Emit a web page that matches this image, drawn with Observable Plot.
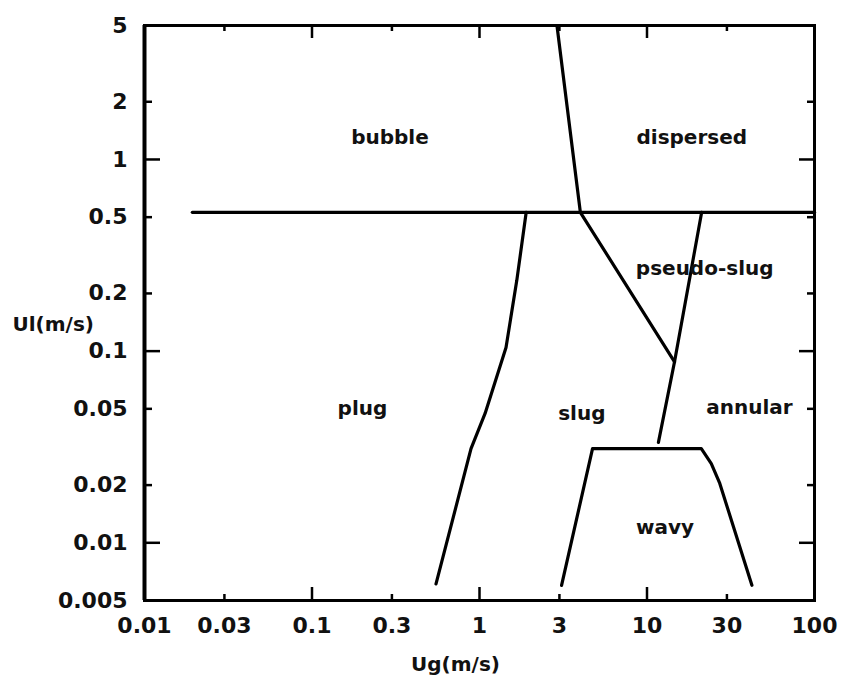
<!DOCTYPE html>
<html>
<head>
<meta charset="utf-8">
<script src="https://cdn.jsdelivr.net/npm/d3@7"></script>
<script src="https://cdn.jsdelivr.net/npm/@observablehq/plot@0.6"></script>
<style>
  html, body { margin: 0; padding: 0; background: #fff; }
  #chart svg { display: block; }
</style>
</head>
<body>
<div id="chart"></div>
<script>
// Axis ticks and labels
const xTicks = [0.01, 0.03, 0.1, 0.3, 1, 3, 10, 30, 100];
const xTickLabels = ["0.01", "0.03", "0.1", "0.3", "1", "3", "10", "30", "100"];
const yTicks = [5, 2, 1, 0.5, 0.2, 0.1, 0.05, 0.02, 0.01, 0.005];
const yTickLabels = ["5", "2", "1", "0.5", "0.2", "0.1", "0.05", "0.02", "0.01", "0.005"];
const xMajorTicks = [0.1, 1, 10];
const xMinorTicks = [0.03, 0.3, 3, 30];
const yMajorTicks = [1, 0.1, 0.01];
const yMinorTicks = [2, 0.5, 0.2, 0.05, 0.02];

// Flow-regime boundaries (Ug, Ul in m/s)
const topBoundaryUg = [0.0193, 100];
const topBoundaryUl = [0.53, 0.53];
const bubbleDispersedUg = [2.9, 4.0];
const bubbleDispersedUl = [5, 0.53];
const pseudoSlugUg = [4.0, 14.6];
const pseudoSlugUl = [0.53, 0.088];
const plugSlugUg = [1.9, 1.67, 1.44, 1.08, 0.89, 0.55];
const plugSlugUl = [0.53, 0.234, 0.1045, 0.0473, 0.031, 0.0061];
const slugAnnularUg = [21.2, 14.6, 11.7];
const slugAnnularUl = [0.53, 0.088, 0.0334];
const wavyUg = [3.09, 4.73, 21.1, 24.2, 27.2, 42.3];
const wavyUl = [0.006, 0.031, 0.031, 0.0259, 0.0204, 0.006];

// Region labels
const regionNames = ["bubble", "dispersed", "pseudo-slug", "plug", "slug", "annular", "wavy"];
const regionUg = [0.292, 18.5, 22.1, 0.2, 4.08, 40.9, 12.8];
const regionUl = [1.30, 1.30, 0.27, 0.0502, 0.047, 0.0508, 0.012];

const zip = (xs, ys) => xs.map((x, i) => ({Ug: x, Ul: ys[i]}));
const boundaries = [
  zip(topBoundaryUg, topBoundaryUl),
  zip(bubbleDispersedUg, bubbleDispersedUl),
  zip(pseudoSlugUg, pseudoSlugUl),
  zip(plugSlugUg, plugSlugUl),
  zip(slugAnnularUg, slugAnnularUl),
  zip(wavyUg, wavyUl)
];
const regions = regionNames.map((n, i) => ({name: n, Ug: regionUg[i], Ul: regionUl[i]}));
const xLabelRows = xTicks.map((v, i) => ({v, t: xTickLabels[i]}));
const yLabelRows = yTicks.map((v, i) => ({v, t: yTickLabels[i]}));

const W = 842, H = 682, mL = 144, mR = 28, mT = 25, mB = 82;
const fw = W - mL - mR, fh = H - mT - mB;
const longT = 13, shortT = 6;

const chart = Plot.plot({
  width: W, height: H,
  marginLeft: mL, marginRight: mR, marginTop: mT, marginBottom: mB,
  style: {fontFamily: "DejaVu Sans", fontWeight: "bold", color: "#000", background: "#fff"},
  x: {type: "log", domain: [0.01, 100], axis: null},
  y: {type: "log", domain: [0.005, 5], axis: null},
  marks: [
    // tick labels
    Plot.text(xLabelRows, {x: "v", text: "t", frameAnchor: "bottom", lineAnchor: "top", dy: 17, fontSize: 22, fontWeight: "bold", fill: "#111"}),
    Plot.text(yLabelRows, {y: "v", text: "t", frameAnchor: "left", textAnchor: "end", dx: -17, fontSize: 22, fontWeight: "bold", fill: "#111"}),
    // inward tick marks
    Plot.tickX(xMajorTicks, {x: d => d, insetTop: fh - longT, strokeWidth: 2.5}),
    Plot.tickX(xMinorTicks, {x: d => d, insetTop: fh - shortT, strokeWidth: 2.5}),
    Plot.tickX(xMajorTicks, {x: d => d, insetBottom: fh - longT, strokeWidth: 2.5}),
    Plot.tickX(xMinorTicks, {x: d => d, insetBottom: fh - shortT, strokeWidth: 2.5}),
    Plot.tickY(yMajorTicks, {y: d => d, insetRight: fw - 16, strokeWidth: 2.5}),
    Plot.tickY(yMinorTicks, {y: d => d, insetRight: fw - 8, strokeWidth: 2.5}),
    Plot.tickY(yMajorTicks, {y: d => d, insetLeft: fw - 15, strokeWidth: 2.5}),
    Plot.tickY(yMinorTicks, {y: d => d, insetLeft: fw - 7, strokeWidth: 2.5}),
    Plot.frame({stroke: "#000", strokeWidth: 3}),
    Plot.ruleX([0.01], {strokeWidth: 4}),
    ...boundaries.map(b => Plot.line(b, {x: "Ug", y: "Ul", stroke: "#000", strokeWidth: 3.2, strokeLinejoin: "round"})),
    Plot.text(regions, {x: "Ug", y: "Ul", text: "name", fontSize: 20, fontWeight: "bold", fill: "#111"}),
    Plot.text(["Ul(m/s)"], {frameAnchor: "left", textAnchor: "start", dx: -132, dy: 12, fontSize: 20, fontWeight: "bold", fill: "#111"}),
    Plot.text(["Ug(m/s)"], {frameAnchor: "bottom", dx: -24, dy: 70, fontSize: 20, fontWeight: "bold", fill: "#111"})
  ]
});
document.getElementById("chart").appendChild(chart);
</script>
</body>
</html>
